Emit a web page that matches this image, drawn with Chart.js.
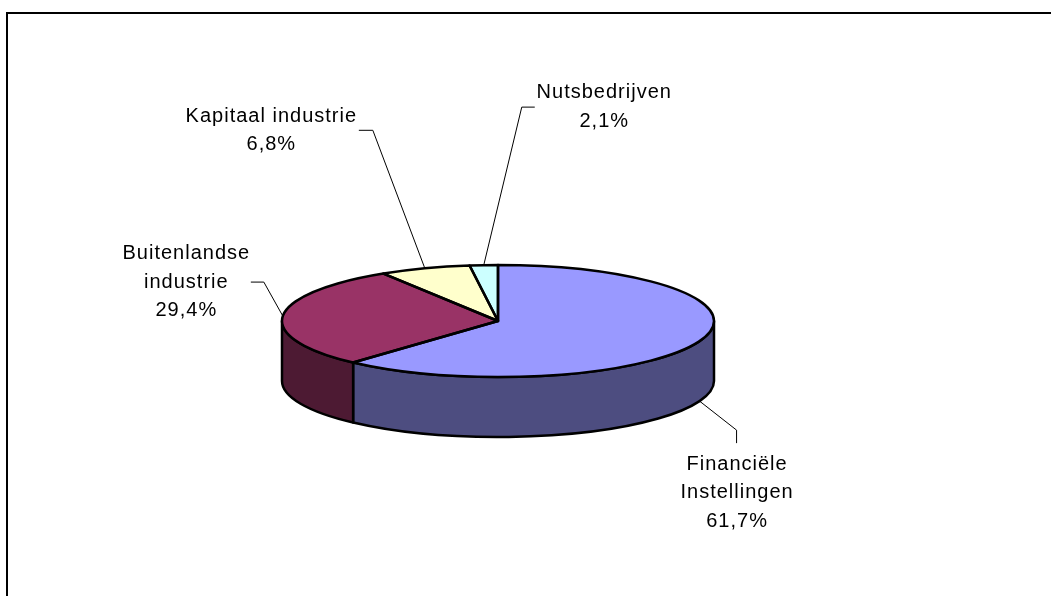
<!DOCTYPE html>
<html>
<head>
<meta charset="utf-8">
<script src="https://cdn.jsdelivr.net/npm/chart.js@4.4.0/dist/chart.umd.min.js"></script>
<style>
  html, body { margin: 0; padding: 0; background: #fff; }
  #wrap { width: 1051px; height: 596px; }
</style>
</head>
<body>
<div id="wrap"><canvas id="myChart" width="1051" height="596"></canvas></div>
<script>
// data
const categories = ['Financiële Instellingen', 'Buitenlandse industrie', 'Kapitaal industrie', 'Nutsbedrijven'];
const shares = [61.7, 29.4, 6.8, 2.1];
const labelText = [['Financiële', 'Instellingen'], ['Buitenlandse', 'industrie'], ['Kapitaal industrie'], ['Nutsbedrijven']];
const topColors = ['#9999FF', '#993366', '#FFFFCC', '#CCFFFF'];
const sideColors = ['#4D4D80', '#4D1A33', '#80806A', '#6A8080'];

// look of the fake 3d
const centerY = 321;
const squash = 56 / 216;
const depth = 60;
const lineH = 28.5;

// where the labels sit, relative to the point the leader starts from
const labelLayout = [
    { elbow: [37, 29], tail: [0, 13], text: [0, 34], valign: 'top' },
    { elbow: [-19, -34], tail: [-13, 0], text: [-78, 0], valign: 'middle' },
    { elbow: [-52, -138], tail: [-14, 0], text: [-102, 0], valign: 'middle' },
    { elbow: [38, -158], tail: [13, 0], text: [82, 0], valign: 'middle' },
];

function pct(v) {
    return v.toFixed(1).replace('.', ',') + '%';
}

function geom(arc) {
    return { cx: arc.x, cy: centerY, rx: arc.outerRadius, ry: arc.outerRadius * squash };
}

const pie3d = {
    id: 'pie3d',
    beforeDraw(chart) {
        const ctx = chart.ctx;
        ctx.save();
        ctx.strokeStyle = '#000';
        ctx.lineWidth = 2;
        ctx.strokeRect(7, 13, 1200, 800);
        ctx.restore();
    },
    beforeDatasetsDraw(chart) {
        const ctx = chart.ctx;
        const arcs = chart.getDatasetMeta(0).data;
        ctx.save();
        ctx.lineWidth = 2.5;
        ctx.lineJoin = 'round';
        ctx.strokeStyle = '#000';
        arcs.forEach((arc, i) => {
            const g = geom(arc);
            const a1 = Math.max(arc.startAngle, 0);
            const a2 = Math.min(arc.endAngle, Math.PI);
            if (a1 >= a2) return;
            ctx.beginPath();
            ctx.ellipse(g.cx, g.cy, g.rx, g.ry, 0, a1, a2);
            ctx.ellipse(g.cx, g.cy + depth, g.rx, g.ry, 0, a2, a1, true);
            ctx.closePath();
            ctx.fillStyle = sideColors[i];
            ctx.fill();
            ctx.stroke();
        });
        ctx.restore();

        // squash the library's pie into the top face
        const a0 = arcs[0];
        ctx.save();
        ctx.translate(a0.x, centerY);
        ctx.scale(1, squash);
        ctx.translate(-a0.x, -a0.y);
    },
    afterDatasetsDraw(chart) {
        const ctx = chart.ctx;
        ctx.restore();
        const arcs = chart.getDatasetMeta(0).data;

        ctx.save();
        ctx.lineWidth = 2.5;
        ctx.lineJoin = 'round';
        ctx.strokeStyle = '#000';
        arcs.forEach(arc => {
            const g = geom(arc);
            ctx.beginPath();
            ctx.moveTo(g.cx, g.cy);
            ctx.ellipse(g.cx, g.cy, g.rx, g.ry, 0, arc.startAngle, arc.endAngle);
            ctx.closePath();
            ctx.stroke();
        });
        ctx.restore();

        // labels with leader lines
        ctx.save();
        ctx.font = '20px "Liberation Sans", Arial, sans-serif';
        ctx.letterSpacing = '1px';
        ctx.fillStyle = '#000';
        ctx.strokeStyle = '#000';
        ctx.lineWidth = 1;
        ctx.textAlign = 'center';
        ctx.textBaseline = 'middle';
        arcs.forEach((arc, i) => {
            const g = geom(arc);
            const mid = (arc.startAngle + arc.endAngle) / 2;
            let ax = g.cx + g.rx * Math.cos(mid);
            let ay = g.cy + g.ry * Math.sin(mid);
            if (Math.sin(mid) > 0) ay += depth;
            const lay = labelLayout[i];
            const ex = ax + lay.elbow[0], ey = ay + lay.elbow[1];
            ctx.beginPath();
            ctx.moveTo(ax, ay);
            ctx.lineTo(ex, ey);
            ctx.lineTo(ex + lay.tail[0], ey + lay.tail[1]);
            ctx.stroke();

            const lines = labelText[i].concat([pct(shares[i])]);
            const tx = ex + lay.text[0];
            let ty = ey + lay.text[1];
            if (lay.valign === 'middle') ty -= (lines.length - 1) * lineH / 2;
            lines.forEach((t, k) => {
                ctx.fillText(t, tx + 0.5, ty + k * lineH);
            });
        });
        ctx.restore();
    }
};

const ctx = document.getElementById('myChart');
new Chart(ctx, {
    type: 'pie',
    data: {
        labels: categories,
        datasets: [{
            data: shares,
            backgroundColor: topColors,
            borderWidth: 0,
            radius: 216,
            clip: false
        }]
    },
    options: {
        responsive: false,
        animation: false,
        events: [],
        layout: { padding: { left: 0, right: 55, top: 0, bottom: 0 } },
        plugins: {
            legend: { display: false },
            tooltip: { enabled: false }
        }
    },
    plugins: [pie3d]
});
</script>
</body>
</html>
